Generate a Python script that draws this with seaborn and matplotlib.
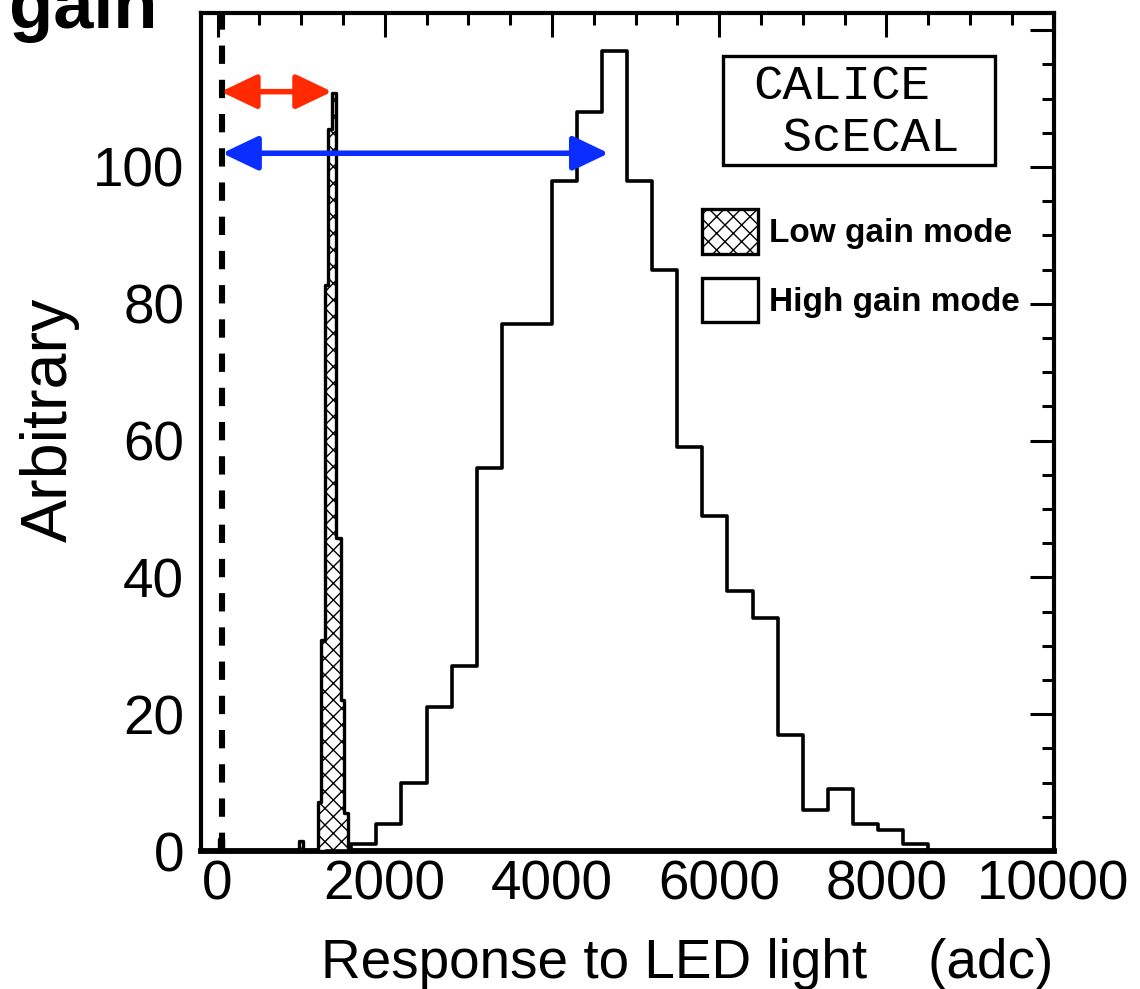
import numpy as np
import matplotlib
matplotlib.use("Agg")
import matplotlib.pyplot as plt
import matplotlib.patches as mpatches
from matplotlib.ticker import MultipleLocator
import seaborn as sns

# ---------------- data ----------------
# High gain mode histogram (bin edges in adc, counts per bin)
high_edges = [1300, 1600, 1900, 2200, 2500, 2800, 3100, 3400, 3700, 4000, 4300,
              4600, 4900, 5200, 5500, 5800, 6100, 6400, 6700, 7000, 7300, 7600,
              7900, 8200, 8500, 8800]
high_counts = [0, 1, 4, 10, 21, 27, 56, 77, 77, 98, 108, 117, 98, 85, 59, 49,
               38, 34, 17, 6, 9, 4, 3, 1, 0]

# Low gain mode histogram (narrow bins)
low_edges = [15, 60, 975, 1020, 1200, 1240, 1280, 1320, 1370, 1420, 1475, 1515, 1560]
low_counts = [1.8, 0, 1.4, 0, 7.2, 30.8, 82.7, 105.6, 110.8, 45.7, 22.1, 5.5]

# Pedestal position (dashed line) and the two range arrows (start, end, level)
pedestal_x = 50
red_arrow = (40, 1370, 111)
blue_arrow = (55, 4680, 102)

x_ticks = [0, 2000, 4000, 6000, 8000, 10000]
x_tick_labels = ["0", "2000", "4000", "6000", "8000", "10000"]
y_ticks = [0, 20, 40, 60, 80, 100, 120]
y_tick_labels = ["0", "20", "40", "60", "80", "100", ""]
legend_labels = ["Low gain mode", "High gain mode"]
x_label = "Response to LED light    (adc)"
y_label = "Arbitrary"
corner_text = "gain"
stamp_lines = ["CALICE", " ScECAL"]

# ---------------- style ----------------
sns.set_theme(style="white")
plt.rcParams["font.family"] = ["Liberation Sans", "DejaVu Sans"]
plt.rcParams["text.color"] = "black"
plt.rcParams["hatch.linewidth"] = 1.0
plt.rcParams["hatch.color"] = "black"

W, H = 1140, 989
fig = plt.figure(figsize=(W / 100, H / 100), dpi=100)
fig.patch.set_facecolor("white")

x_left_px, x_right_px = 200.8, 1053.5
y_bot_px, y_top_px = 851, 13
ax = fig.add_axes([x_left_px / W, 1 - y_bot_px / H,
                   (x_right_px - x_left_px) / W, (y_bot_px - y_top_px) / H])
ax.set_facecolor("white")


def fpx(x, y):
    return x / W, 1 - y / H


def centers(edges):
    e = np.asarray(edges, dtype=float)
    return (e[:-1] + e[1:]) / 2


# Low gain: hatched step histogram
sns.histplot(x=centers(low_edges), weights=low_counts, bins=low_edges,
             element="step", fill=True, facecolor="white", edgecolor="black",
             hatch="xx", linewidth=2.4, alpha=1, ax=ax, zorder=3)

# High gain: open step histogram
sns.histplot(x=centers(high_edges), weights=high_counts, bins=high_edges,
             element="step", fill=False, color="black", linewidth=2.6,
             alpha=1, ax=ax, zorder=4)

# Pedestal dashed line
ax.axvline(pedestal_x, color="black", lw=4.4, dashes=(3.0, 2.6), zorder=5)

# Arrows
for (x0, x1, yv), col in [(red_arrow, "#FF2A00"), (blue_arrow, "#0A2EFF")]:
    ax.annotate("", xy=(x1, yv), xytext=(x0, yv),
                arrowprops=dict(arrowstyle="<|-|>,head_length=22,head_width=10.5",
                                mutation_scale=1, color=col, lw=4.0,
                                shrinkA=0, shrinkB=0),
                zorder=6)

ax.set_xlim(-200, 10000)
ax.set_ylim(0, 122.5)

# Ticks
ax.set_xticks(x_ticks)
ax.set_xticklabels(x_tick_labels)
ax.set_yticks(y_ticks)
ax.set_yticklabels(y_tick_labels)
ax.xaxis.set_minor_locator(MultipleLocator(500))
ax.yaxis.set_minor_locator(MultipleLocator(5))
ax.tick_params(which="both", direction="in", top=True, right=True,
               width=2.2, color="black")
ax.tick_params(which="major", length=17)
ax.tick_params(which="minor", length=8.5)
ax.tick_params(axis="x", which="major", pad=6, labelsize=39.5, labelcolor="black")
ax.tick_params(axis="y", which="major", pad=12, labelsize=39.5, labelcolor="black")

for s in ax.spines.values():
    s.set_linewidth(3.0)
    s.set_color("black")
    s.set_visible(True)
ax.spines["bottom"].set_linewidth(4.2)

# Axis labels
ax.set_xlabel(x_label, fontsize=39.5, loc="right", color="black")
ax.xaxis.set_label_coords(1.0, (y_bot_px - 978) / (y_bot_px - y_top_px))
ax.xaxis.label.set_verticalalignment("baseline")
ax.set_ylabel(y_label, fontsize=46.5, color="black")
ax.yaxis.set_label_coords((67 - x_left_px) / (x_right_px - x_left_px),
                          (y_bot_px - 420) / (y_bot_px - y_top_px))
ax.yaxis.label.set_verticalalignment("baseline")

# Legend
handles = [
    mpatches.Patch(facecolor="white", edgecolor="black", hatch="xx",
                   linewidth=2.4, label=legend_labels[0]),
    mpatches.Patch(facecolor="white", edgecolor="black", linewidth=2.4,
                   label=legend_labels[1]),
]
ax.legend(handles=handles, loc="upper left",
          bbox_to_anchor=((702 - x_left_px) / (x_right_px - x_left_px),
                          (y_bot_px - 209) / (y_bot_px - y_top_px)),
          frameon=False, borderpad=0, borderaxespad=0,
          handlelength=1.68, handleheight=1.68, handletextpad=0.33,
          labelspacing=0.72, labelcolor="black",
          prop=dict(family="Liberation Sans", weight="bold", size=24))

# CALICE ScECAL stamp
x0, y0 = fpx(723, 165)
x1, y1 = fpx(995, 56)
fig.add_artist(mpatches.Rectangle((x0, y0), x1 - x0, y1 - y0, transform=fig.transFigure,
                                  fill=False, edgecolor="black", lw=2.4))
fig.text(*fpx(753, 99), stamp_lines[0], family="Liberation Mono", fontsize=35.5,
         va="baseline", ha="left", color="black")
fig.text(*fpx(753, 151), stamp_lines[1], family="Liberation Mono", fontsize=35.5,
         va="baseline", ha="left", color="black")

# Corner text (cut off at the top as in the reference)
fig.text(*fpx(9, 28), corner_text, fontsize=52, fontweight="bold",
         va="baseline", ha="left", color="black")

fig.savefig("out.png", dpi=100, facecolor="white")
